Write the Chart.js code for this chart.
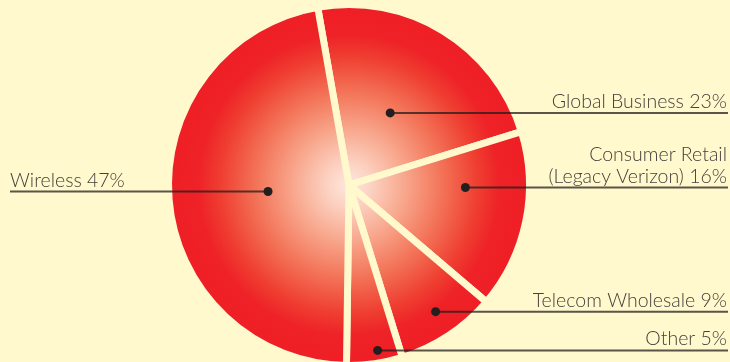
<!DOCTYPE html>
<html lang="en">
<head>
  <meta charset="UTF-8">
  <title>Revenue by segment</title>
  <script src="https://cdn.jsdelivr.net/npm/chart.js@4"></script>
  <style>
    html, body { margin: 0; padding: 0; background: #FFF9CD; overflow: hidden; }
    #wrap { width: 730px; height: 362px; overflow: hidden; }
    canvas { display: block; }
  </style>
</head>
<body>
  <div id="wrap">
    <canvas id="pie" width="730" height="372"></canvas>
  </div>
  <script>
    // segments, clockwise from just left of 12 o'clock
    const segments = ['Global Business', 'Consumer Retail (Legacy Verizon)', 'Telecom Wholesale', 'Other', 'Wireless'];
    const shares = [23, 16, 9, 5, 47];
    const labelLines = [
      ['Global Business 23%'],
      ['Consumer Retail', '(Legacy Verizon) 16%'],
      ['Telecom Wholesale 9%'],
      ['Other 5%'],
      ['Wireless 47%']
    ];

    const cream = '#FFF9CD';
    const ink = '#45403c';

    // where each callout dot sits inside its slice: [fraction of sweep, fraction of radius], side of text
    const callouts = [
      { at: [0.48, 0.46], side: 'right' },
      { at: [0.32, 0.645], side: 'right' },
      { at: [0.47, 0.85], side: 'right' },
      { at: [0.41, 0.93], side: 'right' },
      { at: [0.5, 0.45], side: 'left' }
    ];

    function radialFill(ctx) {
      const area = ctx.chart.chartArea;
      if (!area) return '#EE1F26';
      const cx = (area.left + area.right) / 2;
      const cy = (area.top + area.bottom) / 2;
      const r = Math.min(area.right - area.left, area.bottom - area.top) / 2;
      const g = ctx.chart.ctx.createRadialGradient(cx, cy, 0, cx, cy, r);
      g.addColorStop(0, '#FDE8DE');
      g.addColorStop(0.12, '#FCD2C2');
      g.addColorStop(0.3, '#F8A88E');
      g.addColorStop(0.5, '#F37559');
      g.addColorStop(0.7, '#EF3E31');
      g.addColorStop(0.82, '#EE2227');
      g.addColorStop(1, '#EE1F26');
      return g;
    }

    const calloutPlugin = {
      id: 'callouts',
      afterDatasetsDraw(chart) {
        const { ctx } = chart;
        const arcs = chart.getDatasetMeta(0).data;
        ctx.save();
        ctx.font = '300 19.5px Lato, "Open Sans", sans-serif';
        arcs.forEach((arc, i) => {
          const c = callouts[i];
          const a = arc.startAngle + c.at[0] * (arc.endAngle - arc.startAngle);
          const r = arc.outerRadius * c.at[1];
          const px = arc.x + Math.cos(a) * r;
          const py = arc.y + Math.sin(a) * r;

          // leader line to the page edge
          ctx.strokeStyle = 'rgba(35,28,28,0.75)';
          ctx.lineWidth = 2;
          ctx.beginPath();
          if (c.side === 'right') {
            ctx.moveTo(px, py);
            ctx.lineTo(728, py);
          } else {
            ctx.moveTo(10, py);
            ctx.lineTo(px, py);
          }
          ctx.stroke();

          ctx.fillStyle = '#231F20';
          ctx.beginPath();
          ctx.arc(px, py, 4.5, 0, Math.PI * 2);
          ctx.fill();

          // text sits just above the leader line
          const lines = labelLines[i];
          ctx.fillStyle = ink;
          ctx.textBaseline = 'alphabetic';
          ctx.textAlign = c.side === 'right' ? 'right' : 'left';
          const x = c.side === 'right' ? 727 : 10;
          lines.forEach((t, k) => {
            const y = py - 5 - (lines.length - 1 - k) * 22;
            ctx.fillText(t, x, y);
          });
        });
        ctx.restore();
      }
    };

    new Chart(document.getElementById('pie'), {
      type: 'pie',
      data: {
        labels: segments,
        datasets: [{
          data: shares,
          backgroundColor: radialFill,
          borderColor: cream,
          borderWidth: 7,
          hoverOffset: 0
        }]
      },
      options: {
        responsive: false,
        animation: false,
        rotation: -10,
        layout: { padding: { top: 1, bottom: 3, left: 165, right: 197 } },
        plugins: {
          legend: { display: false },
          tooltip: { enabled: false }
        }
      },
      plugins: [calloutPlugin]
    });
  </script>
</body>
</html>
